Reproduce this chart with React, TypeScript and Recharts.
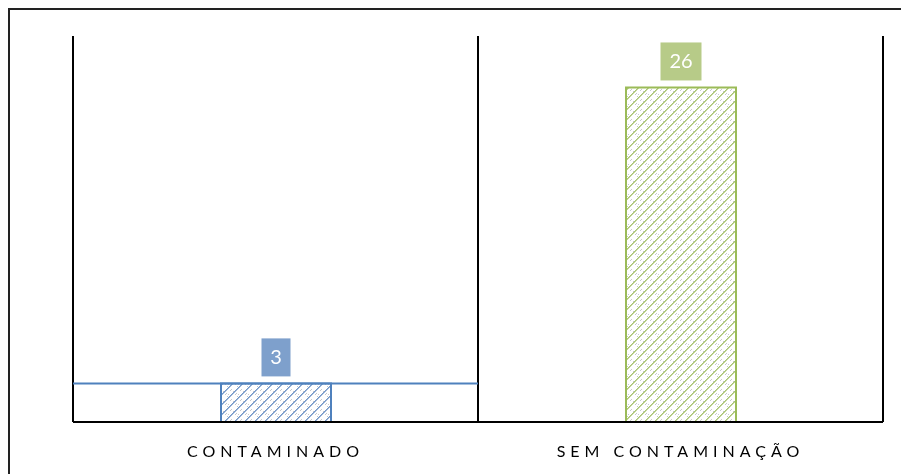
import React from 'react';
import { BarChart, Bar, XAxis, YAxis, CartesianGrid, Cell, LabelList, ReferenceLine } from 'recharts';

const categories = ['CONTAMINADO', 'SEM CONTAMINAÇÃO'];
const counts = [3, 26];
const strokes = ['#4F81BD', '#9BBB59'];
const boxFills = ['#7EA0CC', '#B7CB88'];
const patternIds = ['weaveBlue', 'weaveGreen'];
const dotColors = ['#5B86C0', '#9BBB59'];

const data = categories.map((name, i) => ({ name, value: counts[i] }));

const FONT = 'Lato, "Open Sans", sans-serif';

// small diagonal weave used as bar fill
function Weave({ id, color }: { id: string; color: string }) {
  const px: React.ReactNode[] = [];
  for (let k = 0; k < 10; k++) {
    px.push(<rect key={'a' + k} x={k} y={9 - k} width={1} height={1} fill={color} opacity={0.85} />);
    px.push(<rect key={'b' + k} x={k} y={(10 - k) % 10} width={1} height={1} fill={color} opacity={0.6} />);
  }
  // scattered specks between the bands
  [[2, 2], [3, 1], [7, 6], [8, 5], [0, 6], [5, 3], [9, 8]].forEach(([x, y], i) =>
    px.push(<rect key={'c' + i} x={x} y={y} width={1} height={1} fill="#80868e" opacity={0.45} />)
  );
  return (
    <pattern id={id} patternUnits="userSpaceOnUse" width={10} height={10}>
      <rect width={10} height={10} fill="#fff" />
      {px}
    </pattern>
  );
}

function ValueBox(props: any) {
  const { x, y, width, value, index } = props;
  const digits = String(value).length;
  const w = 17 + 12 * digits;
  const h = 38;
  const cx = x + width / 2;
  const top = y - 7 - h;
  return (
    <g>
      <rect x={cx - w / 2} y={top} width={w} height={h} fill={boxFills[index]} />
      <text x={cx} y={top + h / 2 + 7} textAnchor="middle" fill="#fff" fontSize={20} fontFamily={FONT}>
        {value}
      </text>
    </g>
  );
}

function CategoryTick(props: any) {
  const { x, y, payload } = props;
  return (
    <text x={x} y={y + 27} textAnchor="middle" fill="#000" fontSize={16} fontFamily={FONT} letterSpacing={5}>
      {payload.value}
    </text>
  );
}

// line at the first bar's level, spanning only the first category
function FirstLevelLine(props: any) {
  const { x1, x2, y1 } = props;
  const mid = (x1 + x2) / 2;
  return <line x1={x1} x2={mid} y1={y1} y2={y1} stroke={strokes[0]} strokeWidth={2} />;
}

export default function App() {
  return (
    <div style={{ position: 'fixed', left: 8, top: 8, width: 893, height: 466, borderTop: '2px solid #222', borderLeft: '2px solid #222', boxSizing: 'border-box' }}>
      <div style={{ position: 'absolute', left: -2, top: -2 }}>
        <BarChart width={893} height={466} data={data} margin={{ top: 28, right: 18, bottom: 12, left: 65 }} barSize={110}>
          <defs>
            {patternIds.map((id, i) => (
              <Weave key={id} id={id} color={dotColors[i]} />
            ))}
          </defs>
          <CartesianGrid
            horizontal={false}
            stroke="#000"
            strokeWidth={2}
            verticalCoordinatesGenerator={({ offset }: any) => [offset.left, offset.left + offset.width / 2, offset.left + offset.width]}
          />
          <YAxis hide domain={[0, 30]} />
          <XAxis dataKey="name" axisLine={{ stroke: '#000', strokeWidth: 2 }} tickLine={false} tick={<CategoryTick />} height={40} interval={0} />
          <ReferenceLine y={counts[0]} shape={<FirstLevelLine />} />
          <Bar dataKey="value" isAnimationActive={false} strokeWidth={2}>
            {data.map((d, i) => (
              <Cell key={d.name} fill={`url(#${patternIds[i]})`} stroke={strokes[i]} />
            ))}
            <LabelList dataKey="value" content={<ValueBox />} />
          </Bar>
        </BarChart>
      </div>
    </div>
  );
}
